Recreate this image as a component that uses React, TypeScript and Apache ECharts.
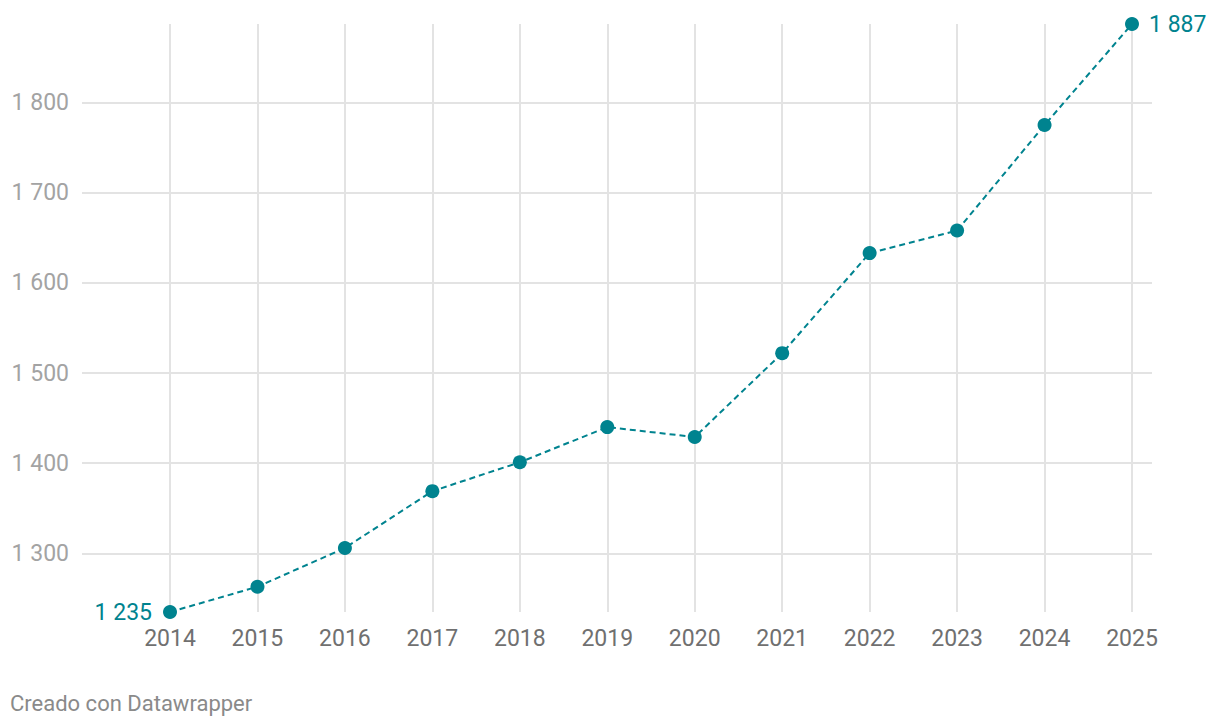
import React, { useEffect, useRef } from "react";
import * as echarts from "echarts";

const years = ["2014", "2015", "2016", "2017", "2018", "2019", "2020", "2021", "2022", "2023", "2024", "2025"];
const values = [1235, 1263, 1306, 1369, 1401, 1440, 1429, 1522, 1633, 1658, 1775, 1887];
const yMin = 1235;
const yMax = 1887;
const footerText = "Creado con Datawrapper";

const TEAL = "#00838f";
const GRID = "#e3e3e3";
const FONT = "Roboto";

const fmt = (v: number) => String(Math.round(v)).replace(/\B(?=(\d{3})+(?!\d))/g, " ");

export default function App() {
  const ref = useRef<HTMLDivElement>(null);
  useEffect(() => {
    if (!ref.current) return;
    const chart = echarts.init(ref.current, null, { renderer: "svg" });
    const last = values.length - 1;
    const seriesData = values.map((v, i) => {
      if (i === 0) {
        return {
          value: v,
          label: { show: true, position: "left", distance: 11, formatter: (p: any) => fmt(p.value), color: TEAL, fontSize: 23, fontFamily: FONT },
        };
      }
      if (i === last) {
        return {
          value: v,
          label: { show: true, position: "right", distance: 10, formatter: (p: any) => fmt(p.value), color: TEAL, fontSize: 23, fontFamily: FONT },
        };
      }
      return { value: v };
    });
    chart.setOption({
      animation: false,
      textStyle: { fontFamily: FONT },
      grid: [
        { left: 82, right: 68, top: 24, bottom: 116 },
        { left: 170, right: 88, top: 24, bottom: 116 },
      ],
      xAxis: [
        { gridIndex: 0, type: "value", show: false, min: 0, max: 1 },
        {
          gridIndex: 1,
          type: "category",
          data: years,
          boundaryGap: false,
          axisLine: { show: false },
          axisTick: { show: false },
          axisLabel: { interval: 0, color: "#707070", fontSize: 23, fontFamily: FONT, margin: 15 },
          splitLine: { show: true, interval: 0, lineStyle: { color: GRID, width: 2 } },
        },
      ],
      yAxis: [
        {
          gridIndex: 0,
          type: "value",
          min: yMin,
          max: yMax,
          minInterval: 100,
          maxInterval: 100,
          axisLine: { show: false },
          axisTick: { show: false },
          axisLabel: {
            color: "#a3a3a3",
            fontSize: 23,
            fontFamily: FONT,
            margin: 13,
            showMinLabel: false,
            showMaxLabel: false,
            formatter: (v: number) => (v % 100 === 0 ? fmt(v) : ""),
          },
          splitLine: { show: true, showMinLine: false, showMaxLine: false, lineStyle: { color: GRID, width: 2 } },
        },
        { gridIndex: 1, type: "value", min: yMin, max: yMax, show: false, splitLine: { show: false } },
      ],
      series: [
        {
          type: "line",
          xAxisIndex: 1,
          yAxisIndex: 1,
          data: seriesData,
          symbol: "circle",
          symbolSize: 14,
          lineStyle: { color: TEAL, width: 2, type: [6, 4] },
          itemStyle: { color: TEAL },
          z: 5,
        },
      ],
      graphic: [
        {
          type: "text",
          left: 10,
          top: 692,
          style: { text: footerText, fill: "#8a8a8a", fontSize: 22, fontFamily: FONT },
        },
      ],
    });
    return () => chart.dispose();
  }, []);
  return <div ref={ref} style={{ position: "fixed", left: 0, top: 0, width: 1220, height: 728, background: "#fff" }} />;
}
